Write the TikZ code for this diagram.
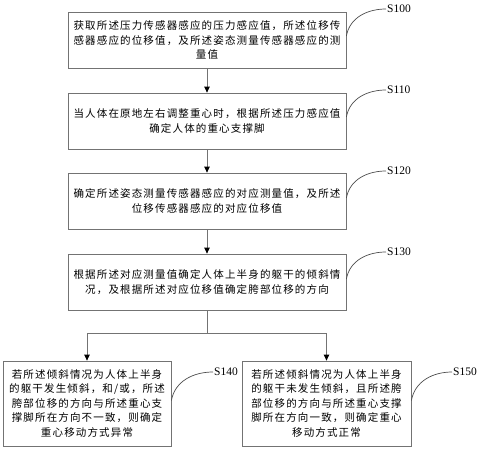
\documentclass[tikz,border=0pt]{standalone}
\usepackage{fontspec}
\setmainfont{Liberation Serif}
\newfontfamily\cjk[LetterSpace=11]{Noto Sans CJK SC}
\usetikzlibrary{arrows.meta}
\begin{document}
\begin{tikzpicture}[x=1pt,y=-1pt,
  box/.style={draw=black!55, line width=0.8pt, minimum height=56pt, align=center,
    font=\cjk\fontsize{10.5}{14.5}\selectfont, inner sep=0pt},
  flow/.style={draw=black!55, line width=0.8pt, -{Triangle[length=6pt,width=5.5pt,color=black]}},
  lab/.style={font=\fontsize{11.5}{12}\selectfont, inner sep=1pt, anchor=west},
  lead/.style={draw=black!70, line width=0.7pt}]
\useasboundingbox (0,0) rectangle (480,450);
\node[box, minimum width=278pt] (b1) at (207,40) {获取所述压力传感器感应的压力感应值，所述位移传\\感器感应的位移值，及所述姿态测量传感器感应的测\\量值};
\node[box, minimum width=278pt] (b2) at (207,121) {当人体在原地左右调整重心时，根据所述压力感应值\\确定人体的重心支撑脚};
\node[box, minimum width=278pt] (b3) at (207,201) {确定所述姿态测量传感器感应的对应测量值，及所述\\位移传感器感应的对应位移值};
\node[box, minimum width=278pt] (b4) at (207,282) {根据所述对应测量值确定人体上半身的躯干的倾斜情\\况，及根据所述对应位移值确定胯部位移的方向};
\node[box, minimum width=168pt, minimum height=85pt] (b5) at (87,403.5) {若所述倾斜情况为人体上半身\\的躯干发生倾斜，和/或，所述\\胯部位移的方向与所述重心支\\撑脚所在方向不一致，则确定\\重心移动方式异常};
\node[box, minimum width=169pt, minimum height=85pt] (b6) at (326.5,403.5) {若所述倾斜情况为人体上半身\\的躯干未发生倾斜，且所述胯\\部位移的方向与所述重心支撑\\脚所在方向一致，则确定重心\\移动方式正常};
\draw[flow] (b1) -- (b2);
\draw[flow] (b2) -- (b3);
\draw[flow] (b3) -- (b4);
\coordinate (j) at (207,333);
\draw[flow] (b4.south) -- (j) -| (b5.north);
\draw[flow] (j) -| (b6.north);
\node[lab] (l1) at (386,9) {S100};
\node[lab] (l2) at (386,90) {S110};
\node[lab] (l3) at (386,171) {S120};
\node[lab] (l4) at (386,252) {S130};
\node[lab] (l5) at (213,372) {S140};
\node[lab] (l6) at (452,372) {S150};
\draw[lead] ([yshift=4pt]b1.east) to[out=80,in=180] (l1.west);
\draw[lead] ([yshift=4pt]b2.east) to[out=80,in=180] (l2.west);
\draw[lead] ([yshift=3pt]b3.east) to[out=80,in=180] (l3.west);
\draw[lead] ([yshift=3pt]b4.east) to[out=80,in=180] (l4.west);
\draw[lead] ([yshift=3pt]b5.east) to[out=80,in=180] (l5.west);
\draw[lead] ([yshift=3pt]b6.east) to[out=80,in=180] (l6.west);
\end{tikzpicture}
\end{document}
